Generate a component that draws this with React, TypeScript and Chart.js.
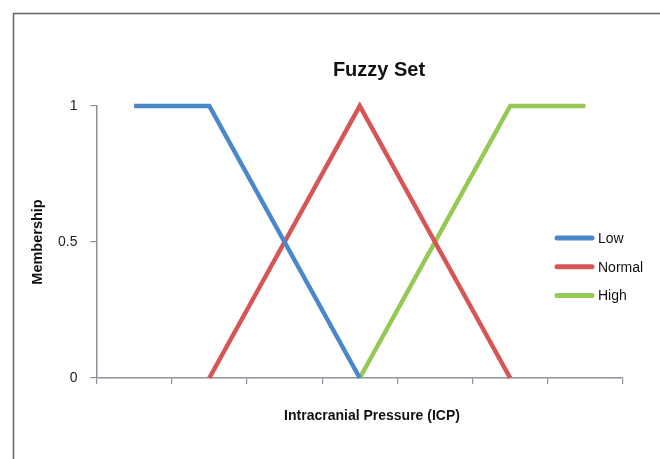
import React, { useEffect, useRef } from "react";
import { Chart, registerables } from "chart.js";

Chart.register(...registerables);

const categories = ["1", "2", "3", "4", "5", "6", "7"];
const lowValues = [1, 1, 0.5, 0, null, null, null];
const normalValues = [null, 0, 0.5, 1, 0.5, 0, null];
const highValues = [null, null, null, 0, 0.5, 1, 1];
const yTicks = [0, 0.5, 1];
const seriesNames = ["Low", "Normal", "High"];
const chartTitle = "Fuzzy Set";
const xTitle = "Intracranial Pressure (ICP)";
const yTitle = "Membership";

const COLORS = ["#4A88CB", "#D85555", "#95C855"];
const FONT = "'Liberation Sans', Arial, sans-serif";
const AXIS = "#8E939B";

const overlay = {
  id: "overlay",
  afterDraw(chart: any) {
    const ctx = chart.ctx;
    const a = chart.chartArea;
    ctx.save();
    // outer border
    ctx.strokeStyle = "#666";
    ctx.lineWidth = 1.5;
    ctx.beginPath();
    ctx.moveTo(13.5, 470);
    ctx.lineTo(13.5, 13.5);
    ctx.lineTo(670, 13.5);
    ctx.stroke();
    // title
    ctx.fillStyle = "#111";
    ctx.textAlign = "center";
    ctx.textBaseline = "middle";
    ctx.font = `bold 20px ${FONT}`;
    ctx.fillText(chartTitle, 379, 70);
    // x title
    ctx.font = `bold 14px ${FONT}`;
    ctx.fillText(xTitle, 372, 416);
    // y title
    ctx.save();
    ctx.translate(38, (a.top + a.bottom) / 2);
    ctx.rotate(-Math.PI / 2);
    ctx.font = `bold 14.5px ${FONT}`;
    ctx.fillText(yTitle, 0, 0);
    ctx.restore();
    // legend
    ctx.textAlign = "left";
    ctx.font = `14px ${FONT}`;
    chart.data.datasets.forEach((ds: any, i: number) => {
      const y = 238 + i * 28.7;
      ctx.strokeStyle = ds.borderColor;
      ctx.lineWidth = 5;
      ctx.lineCap = "round";
      ctx.beginPath();
      ctx.moveTo(557, y);
      ctx.lineTo(592, y);
      ctx.stroke();
      ctx.fillStyle = "#111";
      ctx.fillText(ds.label, 598, y + 1);
    });
    ctx.restore();
  },
};

export default function App() {
  const ref = useRef<HTMLCanvasElement>(null);
  useEffect(() => {
    if (!ref.current) return;
    const series = [lowValues, normalValues, highValues];
    const chart = new Chart(ref.current, {
      type: "line",
      data: {
        labels: categories,
        datasets: series.map((d, i) => ({
          label: seriesNames[i],
          data: d,
          borderColor: COLORS[i],
          backgroundColor: COLORS[i],
          borderWidth: 4.5,
          pointRadius: 0,
          tension: 0,
          spanGaps: false,
          clip: false,
          borderCapStyle: "butt" as const,
        })),
      },
      options: {
        responsive: false,
        animation: false,
        layout: { padding: { top: 106, right: 37, bottom: 0, left: 0 } },
        plugins: {
          legend: { display: false },
          title: { display: false },
          tooltip: { enabled: false },
        },
        scales: {
          x: {
            type: "category",
            offset: true,
            grid: {
              offset: true,
              drawOnChartArea: false,
              drawTicks: true,
              tickLength: 6,
              color: AXIS,
              lineWidth: 1.2,
            },
            border: { color: AXIS, width: 1.5 },
            ticks: { display: false },
            afterFit: (s: any) => {
              s.height = 81;
            },
          },
          y: {
            min: 0,
            max: 1,
            afterBuildTicks: (s: any) => {
              s.ticks = yTicks.map((v) => ({ value: v }));
            },
            ticks: {
              callback: (v: any) => String(v),
              padding: 13,
              color: "#222",
              font: { family: FONT, size: 14 },
            },
            grid: {
              drawOnChartArea: false,
              drawTicks: true,
              tickLength: 6,
              color: AXIS,
              lineWidth: 1.2,
            },
            border: { color: AXIS, width: 1.5 },
            afterFit: (s: any) => {
              s.width = 96.5;
            },
          },
        },
      },
      plugins: [overlay],
    });
    return () => chart.destroy();
  }, []);
  return (
    <div style={{ position: "absolute", left: 0, top: 0, width: 660, height: 459, background: "#fff" }}>
      <canvas ref={ref} width={660} height={459} style={{ display: "block" }} />
    </div>
  );
}
